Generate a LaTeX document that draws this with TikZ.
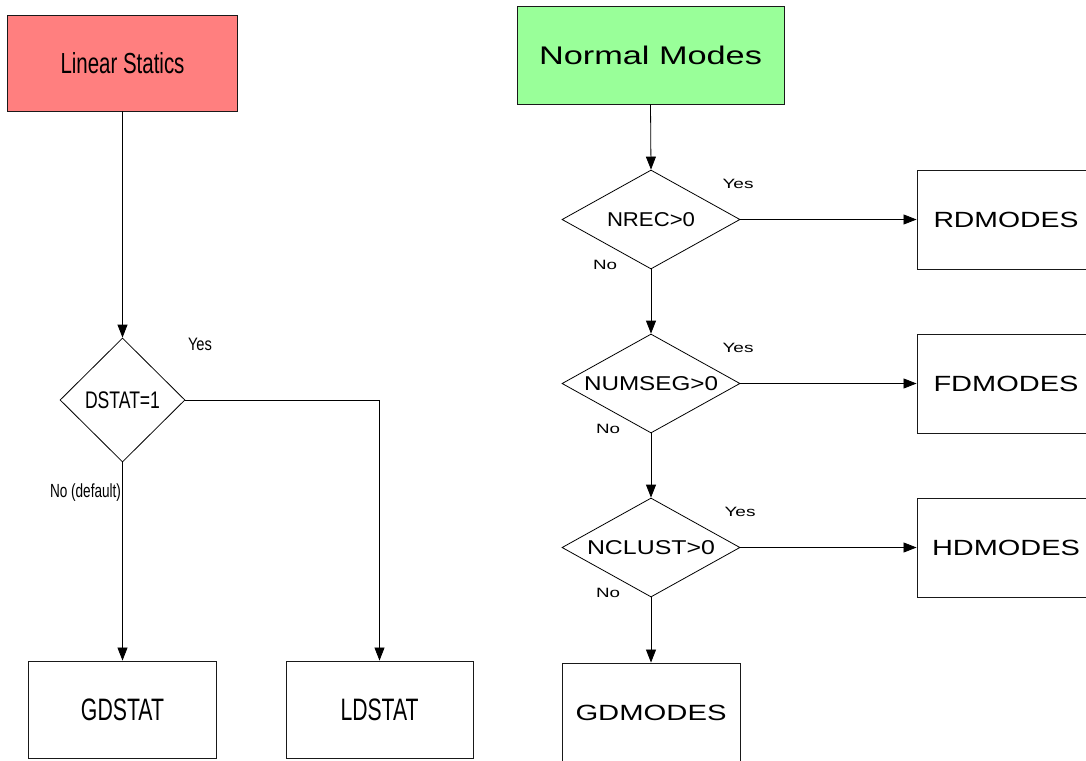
\documentclass[tikz,border=0pt]{standalone}
\usepackage{fontspec}
\setmainfont{Liberation Sans}
\usepackage{graphicx}
\usetikzlibrary{shapes.geometric,arrows.meta}
\newcommand{\tx}[3]{{\fontsize{#1pt}{#1pt}\selectfont\resizebox{#2pt}{\height}{#3}}}
\definecolor{lsred}{RGB}{255,127,127}
\definecolor{nmgreen}{RGB}{153,255,153}
\begin{document}
\begin{tikzpicture}[x=1pt,y=-1pt,
  box/.style={draw=black!90, line width=0.9pt, rectangle, inner sep=0pt},
  dia/.style={draw=black, line width=0.8pt, diamond, inner sep=0pt},
  lbl/.style={inner sep=0pt, anchor=base},
  conn/.style={draw=black, line width=0.8pt},
  arr/.style={conn, -{Triangle[length=13pt,width=10pt]}}]
\useasboundingbox (0,0) rectangle (1086,760);
\clip (0,0) rectangle (1086,760);
% left chart
\node[box, fill=lsred, minimum width=230pt, minimum height=96pt] (ls) at (122.5,63) {\tx{29}{124}{Linear Statics}};
\node[dia, minimum width=125pt, minimum height=124pt] (d0) at (122.5,400) {\makebox[0pt]{\tx{24}{75}{DSTAT=1}}};
\node[box, minimum width=188pt, minimum height=97.5pt] (gd) at (122.5,709.75) {\tx{31}{83}{GDSTAT}};
\node[box, minimum width=187pt, minimum height=97.5pt] (ld) at (379.5,709.75) {\tx{31}{78}{LDSTAT}};
\node[lbl] (y0) at (200,350) {\tx{18}{24}{Yes}};
\node[lbl] (n0) at (85.5,497) {\tx{19}{71}{No (default)}};
\draw[arr] (ls.south) -- (d0.north);
\draw[arr] (d0.east) -| (ld.north);
\draw[arr] (d0.south) -- (gd.north);
% right chart
\node[box, fill=nmgreen, minimum width=267pt, minimum height=98pt] (nm) at (650.5,55) {\tx{25.5}{223}{Normal Modes}};
\node[dia, minimum width=178pt, minimum height=99pt] (d1) at (651,219.5) {\makebox[0pt]{\tx{20}{88}{NREC>0}}};
\node[dia, minimum width=178pt, minimum height=99pt] (d2) at (651,383.5) {\makebox[0pt]{\tx{20}{134}{NUMSEG>0}}};
\node[dia, minimum width=178pt, minimum height=99pt] (d3) at (651,547.5) {\makebox[0pt]{\tx{20}{128}{NCLUST>0}}};
\node[box, minimum width=178pt, minimum height=99pt] (rd) at (1006,219.5) {\tx{22}{145}{RDMODES}};
\node[box, minimum width=178pt, minimum height=99pt] (fd) at (1006,383.5) {\tx{22}{145}{FDMODES}};
\node[box, minimum width=178pt, minimum height=99pt] (hd) at (1006,547.5) {\tx{22}{148}{HDMODES}};
\node[box, minimum width=178pt, minimum height=99pt] (gm) at (651,712.5) {\tx{22}{151}{GDMODES}};
\node[lbl] (y1) at (738,188) {\tx{13.5}{31}{Yes}};
\node[lbl] (y2) at (738,352) {\tx{13.5}{31}{Yes}};
\node[lbl] (y3) at (740,516) {\tx{13.5}{31}{Yes}};
\node[lbl] (n1) at (605,269) {\tx{13.5}{24}{No}};
\node[lbl] (n2) at (608,433) {\tx{13.5}{24}{No}};
\node[lbl] (n3) at (608,597) {\tx{13.5}{24}{No}};
\draw[arr] (nm.south) -- (d1.north);
\draw[arr] (d1.south) -- (d2.north);
\draw[arr] (d2.south) -- (d3.north);
\draw[arr] (d3.south) -- (gm.north);
\draw[arr] (d1.east) -- (rd.west);
\draw[arr] (d2.east) -- (fd.west);
\draw[arr] (d3.east) -- (hd.west);
\end{tikzpicture}
\end{document}
